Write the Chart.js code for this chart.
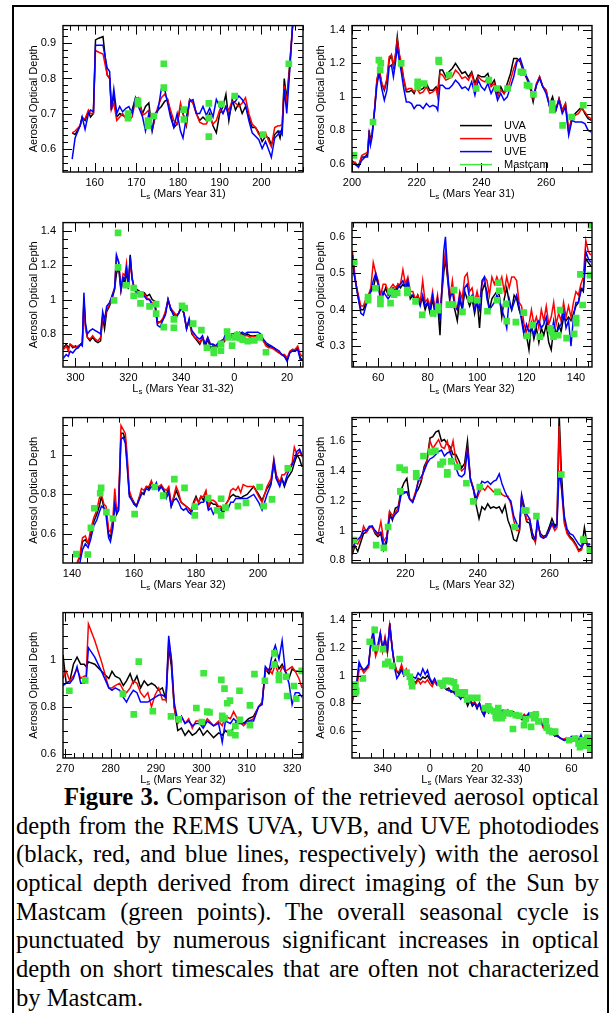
<!DOCTYPE html>
<html>
<head>
<meta charset="utf-8">
<title>Figure 3</title>
<script src="https://cdn.jsdelivr.net/npm/chart.js@4.4.0/dist/chart.umd.min.js"></script>
<style>
  body { margin: 0; background: #fff; width: 612px; height: 1013px; position: relative; overflow: hidden; }
  #frame { position: absolute; left: 12px; top: 5px; width: 593px; height: 1020px; border: 2px solid #000; }
  canvas { position: absolute; }
  #caption { position: absolute; left: 16px; top: 783px; width: 583px; font-family: "Liberation Serif", "Times New Roman", serif; font-size: 24.6px; line-height: 28.7px; color: #000; }
  #caption .ln { text-align: justify; text-align-last: justify; height: 28.7px; }
  #caption .ln.last { text-align-last: left; }
</style>
</head>
<body>
<div id="frame"></div>
<div id="caption">
  <div class="ln" style="text-indent:48px"><b>Figure 3.</b> Comparison of the retrieved aerosol optical</div>
  <div class="ln">depth from the REMS UVA, UVB, and UVE photodiodes</div>
  <div class="ln">(black, red, and blue lines, respectively) with the aerosol</div>
  <div class="ln">optical depth derived from direct imaging of the Sun by</div>
  <div class="ln">Mastcam (green points). The overall seasonal cycle is</div>
  <div class="ln">punctuated by numerous significant increases in optical</div>
  <div class="ln">depth on short timescales that are often not characterized</div>
  <div class="ln last">by Mastcam.</div>
</div>
<script>
// ---- panel 1 : MY31, Ls 152-210
var p1Ls = [154.6, 155.3, 156.5, 157, 157.7, 158.5, 159, 159.7, 160.2, 161,
  162, 163, 163.6, 164, 164.6, 165.3, 166, 166.7, 167.5, 168.2,
  169, 169.8, 170.5, 171.5, 172.2, 173, 173.8, 174.5, 175.2, 176,
  176.8, 177.5, 178.2, 179, 179.8, 180.6, 181.2, 182, 182.8, 183.6,
  184.4, 185.2, 186, 186.8, 187.6, 188.4, 189.2, 190, 190.8, 191.5,
  192.2, 193, 193.8, 194.6, 195.4, 196.2, 197, 197.8, 198.6, 199.4,
  200.2, 201, 201.8, 202.4, 203.2, 204, 204.5, 205, 205.5, 206.1,
  206.8, 207.5];
var p1Uva = [.645, .64, .665, .69, .68, .705, .69, .70, .91, .915,
  .92, .81, .80, .72, .75, .69, .70, .695, .69, .70,
  .71, .745, .74, .70, .72, .73, .65, .69, .71, .72,
  .735, .74, .70, .66, .67, .72, .70, .665, .74, .73,
  .70, .68, .69, .68, .70, .665, .645, .70, .72, .755,
  .68, .74, .71, .73, .70, .72, .69, .66, .66, .645,
  .62, .635, .63, .61, .64, .65, .63, .66, .80, .74,
  .84, .95];
var p1Uvb = [.645, .65, .665, .685, .685, .71, .70, .70, .88, .875,
  .87, .81, .80, .71, .73, .68, .69, .70, .685, .68,
  .69, .74, .745, .695, .70, .71, .655, .69, .72, .745,
  .755, .74, .71, .68, .67, .73, .70, .67, .74, .73,
  .70, .675, .67, .67, .69, .67, .68, .71, .70, .72,
  .71, .735, .73, .72, .73, .745, .70, .67, .66, .64,
  .64, .645, .62, .605, .66, .665, .665, .67, .78, .73,
  .83, .95];
var p1Uve = [.57, .63, .665, .69, .655, .70, .71, .705, .895, .895,
  .895, .83, .82, .71, .77, .70, .72, .705, .715, .72,
  .70, .745, .72, .69, .65, .70, .655, .70, .71, .77,
  .77, .73, .69, .66, .70, .65, .63, .69, .735, .74,
  .70, .70, .72, .695, .715, .69, .74, .72, .70, .72,
  .69, .73, .735, .75, .74, .725, .68, .645, .635, .625,
  .60, .62, .595, .575, .63, .64, .65, .64, .77, .70,
  .82, .95];
var p1CamLs = [168, 168, 170.4, 170.4, 172.8, 172.8, 173, 174.2, 176.6, 176.6,
  181.4, 181.4, 187.4, 187.4, 187.4, 190.4, 193.6, 200.4, 206.6];
var p1CamAod = [.70, .687, .736, .727, .68, .665, .675, .693, .842, .774,
  .711, .683, .729, .687, .634, .727, .75, .64, .842];
var p1XRange = [152.4, 210];
var p1YRange = [0.533, 0.951];
var p1XTicks = [160, 170, 180, 190, 200];
var p1YTicks = [0.6, 0.7, 0.8, 0.9];
var p1XTitle = ' (Mars Year 31)';

// ---- panel 2 : MY31, Ls 200-274
var p2Ls = [200, 201, 202, 203, 204, 204.8, 205.3, 205.7, 206.2, 207,
  207.7, 208.4, 209.2, 210, 210.8, 211.5, 212.2, 212.8, 213.4, 214,
  214.6, 215.3, 216, 216.8, 217.6, 218.4, 219.2, 220, 221, 222,
  223, 224, 225, 226, 226.5, 227.2, 228, 229, 230, 231,
  232, 233, 234, 235, 236, 237, 238, 239, 240, 241,
  242, 243, 244, 245, 246, 247, 248, 249, 250, 251,
  252, 253, 254, 255, 256, 257, 258, 259, 260, 261,
  262, 263, 264, 265, 266, 267, 268, 269, 270, 271,
  272, 273, 274];
var p2Uva = [.62, .60, .59, .64, .64, .66, .80, .74, .78, .93,
  1.10, 1.16, 1.08, 1.04, 1.10, 1.22, 1.25, 1.18, 1.24, 1.36,
  1.25, 1.18, 1.10, 1.03, 1.03, 1.04, 1.02, 1.06, 1.04, 1.05,
  1.08, 1.04, 1.04, 1.06, 1.03, 1.16, 1.16, 1.12, 1.15, 1.17,
  1.20, 1.17, 1.14, 1.15, 1.12, 1.15, 1.08, 1.13, 1.12, 1.12,
  1.14, 1.07, 1.10, 1.02, 1.06, 1.02, 1.08, 1.14, 1.23, 1.23,
  1.21, 1.15, 1.11, 1.06, .97, 1.07, 1.12, 1.06, 1.04, .95,
  1.00, .92, .99, .92, .96, .79, .88, .90, .92, .94,
  .90, .87, .86];
var p2Uvb = [.61, .61, .58, .65, .66, .67, .78, .73, .77, .93,
  1.10, 1.17, 1.08, 1.05, 1.11, 1.24, 1.25, 1.19, 1.25, 1.34,
  1.26, 1.20, 1.11, 1.04, 1.05, 1.05, 1.03, 1.05, 1.02, 1.03,
  1.06, 1.02, 1.03, 1.05, 1.00, 1.14, 1.13, 1.10, 1.11, 1.12,
  1.16, 1.14, 1.11, 1.12, 1.10, 1.14, 1.06, 1.12, 1.10, 1.09,
  1.11, 1.06, 1.08, 1.00, 1.04, 1.02, 1.04, 1.10, 1.17, 1.22,
  1.22, 1.16, 1.12, 1.07, .99, 1.08, 1.12, 1.06, 1.04, .95,
  .98, .92, .99, .92, .96, .80, .87, .89, .90, .93,
  .91, .88, .87];
var p2Uve = [.60, .595, .58, .62, .64, .64, .77, .71, .76, .92,
  1.07, 1.14, 1.05, .98, 1.04, 1.18, 1.19, 1.12, 1.20, 1.30,
  1.22, 1.14, 1.05, .97, .97, .96, .93, .95, .95, .93,
  .96, .94, .95, .94, .92, 1.07, 1.07, 1.05, 1.05, 1.07,
  1.10, 1.08, 1.05, 1.06, 1.04, 1.09, 1.01, 1.10, 1.06, 1.04,
  1.08, 1.02, 1.06, .98, 1.02, .98, 1.00, 1.06, 1.12, 1.21,
  1.23, 1.17, 1.12, 1.08, 1.00, 1.07, 1.11, 1.06, 1.02, .95,
  .98, .92, .98, .90, .94, .77, .86, .85, .85, .85,
  .84, .80, .79];
var p2CamLs = [200.6, 206.5, 208.3, 208.9, 208.7, 215.2, 220.3, 220.3, 222.3, 226.8,
  226.9, 230, 238.4, 242.3, 244.8, 248.1, 252.2, 252.9, 254.1, 254.8,
  256.1, 261.9, 261.9, 265.1, 267.9, 271.5];
var p2CamAod = [.65, .85, 1.22, 1.20, 1.16, 1.20, 1.09, 1.06, 1.08, 1.22,
  1.21, 1.13, 1.05, 1.10, 1.05, 1.05, 1.15, 1.145, 1.07, 1.065,
  1.015, .96, .92, .83, .88, .95];
var p2XRange = [200, 274.2];
var p2YRange = [0.551, 1.426];
var p2XTicks = [200, 220, 240, 260];
var p2YTicks = [0.6, 0.8, 1, 1.2, 1.4];
var p2XTitle = ' (Mars Year 31)';

// ---- panel 3 : MY31-32, Ls 295 - 26 (values past 360 keep counting)
var p3Ls = [295.5, 296.5, 297.3, 298, 299, 300, 301, 302, 302.6, 303.2,
  303.8, 304.5, 305.5, 306.5, 307.5, 308.5, 309.5, 310.3, 311, 311.8,
  312.8, 313.8, 314.8, 315.5, 316.3, 317.2, 318, 318.7, 319.3, 320,
  320.7, 321.4, 322.2,
  323, 324, 325, 326, 327, 328, 329, 330, 331, 332,
  333, 334, 335, 336, 337, 338, 339, 340, 341, 342,
  343, 344, 345, 346, 347, 348, 349, 350, 351, 352,
  353, 354, 355, 356, 357, 358, 359, 360, 361, 362,
  363, 364, 365, 366, 367, 368, 369, 370, 371, 372,
  373, 374, 375, 376, 377, 378, 379, 380, 381, 382,
  383, 384, 385, 385.8];
var p3Uva = [.72, .74, .72, .74, .72, .73, .72, .74, .75, 1.00,
  .85, .78, .76, .78, .76, .75, .76, .90, .83, .93,
  .96, 1.00, 1.06, 1.15, 1.19, 1.05, 1.12, 1.10, 1.17, 1.06,
  1.26, 1.12, 1.07,
  1.06, 1.05, 1.04, 1.04, 1.02, 1.03, 1.00, .99, .87, .87,
  .88, .92, 1.00, .94, .92, .91, .92, .96, .92, .83,
  .88, .80, .78, .76, .74, .78, .72, .77, .72, .73,
  .72, .73, .74, .75, .77, .78, .79, .80, .79, .81,
  .80, .79, .80, .79, .79, .79, .79, .78, .76, .74,
  .73, .72, .72, .70, .69, .68, .67, .65, .69, .71,
  .70, .72, .66, .65];
var p3Uvb = [.71, .73, .70, .74, .73, .72, .73, .74, .74, .98,
  .83, .78, .77, .79, .77, .76, .78, .90, .87, .94,
  .97, 1.02, 1.07, 1.25, 1.22, 1.06, 1.15, 1.14, 1.21, 1.09,
  1.22, 1.12, 1.07,
  1.05, 1.04, 1.02, 1.03, 1.01, 1.00, .98, .97, .86, .87,
  .89, .93, 1.00, .95, .93, .91, .92, .96, .92, .83,
  .88, .81, .78, .77, .75, .78, .74, .78, .74, .74,
  .73, .74, .76, .76, .78, .78, .78, .79, .79, .80,
  .79, .79, .79, .78, .79, .78, .78, .77, .76, .73,
  .72, .72, .71, .70, .69, .68, .68, .66, .70, .71,
  .71, .73, .68, .67];
var p3Uve = [.66, .68, .67, .70, .69, .71, .72, .74, .73, 1.04,
  .86, .80, .82, .83, .82, .81, .80, .93, .88, .96,
  .98, 1.02, 1.06, 1.26, 1.22, 1.06, 1.13, 1.12, 1.18, 1.09,
  1.25, 1.13, 1.06,
  1.04, 1.03, 1.02, 1.02, 1.00, 1.00, .97, .97, .85, .84,
  .88, .91, 1.00, .95, .91, .89, .92, .95, .92, .83,
  .89, .82, .80, .78, .77, .79, .74, .78, .74, .74,
  .73, .75, .76, .77, .81, .79, .80, .80, .81, .80,
  .81, .80, .81, .81, .81, .81, .81, .80, .77, .75,
  .74, .73, .72, .71, .70, .68, .67, .64, .69, .70,
  .70, .71, .65, .65];
var p3CamLs = [316.1, 316.1, 314.6, 319.1, 322, 322, 324.6, 324.6, 328, 330.5,
  330.5, 333.4, 337.2, 337.2, 340.3, 341.3, 344.5, 347.6, 349.7, 352.3,
  352.3, 355, 355, 357.3, 357.7, 359.2, 360.2, 361.1, 362.3, 363.2,
  365.1, 367.6, 369.6, 372];
var p3CamAod = [1.387, 1.187, .995, 1.083, 1.067, 1.022, 1.03, .978, .96, .973,
  .918, .84, .885, .836, .964, .951, .86, .822, .72, .708,
  .69, .743, .703, .814, .78, .732, .78, .794, .776, .767,
  .758, .763, .78, .694];
var p3XRange = [295.3, 386];
var p3YRange = [0.608, 1.447];
var p3XTicks = [300, 320, 340, 360, 380];
var p3YTicks = [0.8, 1, 1.2, 1.4];
var p3XTitle = ' (Mars Year 31-32)';

// ---- panel 4 : MY32, Ls 49-146
var p4Ls = [49.6, 50.2, 51, 52, 53, 54, 55, 56, 57, 58,
  59, 60, 61, 62, 63, 64, 65, 66, 67, 68,
  69, 70, 71, 72, 73, 74, 75, 76, 77, 78,
  79, 80, 81, 82, 83, 84, 85, 85.7, 86.5, 87.2,
  88, 89, 90, 91, 92, 93, 94, 95, 96, 97,
  98, 99, 100, 101, 102, 103, 104, 105, 106, 107,
  108, 109, 110, 111, 112, 113, 114, 115, 116, 117,
  118, 119, 120, 121, 122, 123, 124, 125, 126, 127,
  128, 129, 130, 131, 132, 133, 134, 135, 136, 137,
  138, 139, 140, 141, 142, 143, 144, 145, 146];
var p4Uva = [.55, .50, .47, .43, .40, .40, .42, .44, .45, .46,
  .49, .47, .43, .44, .46, .44, .45, .46, .45, .47,
  .46, .47, .46, .47, .43, .44, .42, .44, .42, .43,
  .40, .42, .39, .43, .39, .42, .33, .44, .50, .54,
  .49, .42, .42, .40, .37, .43, .40, .45, .43, .41,
  .43, .39, .43, .35, .45, .47, .45, .40, .43, .44,
  .45, .44, .38, .43, .46, .42, .40, .44, .43, .40,
  .38, .34, .33, .29, .36, .32, .35, .31, .35, .33,
  .36, .31, .29, .35, .33, .36, .34, .38, .37, .38,
  .37, .39, .41, .42, .46, .45, .54, .53, .52];
var p4Uvb = [.56, .52, .47, .44, .41, .41, .43, .44, .46, .53,
  .50, .48, .44, .47, .47, .45, .46, .47, .46, .47,
  .47, .51, .47, .49, .45, .45, .43, .44, .42, .48,
  .42, .43, .41, .45, .40, .44, .38, .45, .52, .56,
  .50, .43, .48, .42, .40, .45, .43, .49, .50, .45,
  .46, .42, .45, .42, .47, .49, .48, .44, .49, .47,
  .49, .47, .49, .45, .49, .46, .49, .49, .48, .42,
  .41, .36, .34, .36, .40, .36, .38, .35, .40, .37,
  .41, .36, .38, .42, .36, .39, .37, .42, .38, .41,
  .38, .42, .45, .44, .47, .49, .59, .56, .55];
var p4Uve = [.55, .50, .47, .43, .39, .385, .41, .43, .45, .48,
  .50, .47, .42, .45, .44, .43, .44, .45, .44, .46,
  .47, .48, .46, .48, .44, .44, .42, .43, .41, .44,
  .41, .42, .40, .44, .39, .43, .37, .45, .56, .60,
  .51, .43, .45, .41, .40, .44, .40, .46, .47, .43,
  .44, .40, .42, .40, .48, .49, .43, .40, .41, .42,
  .44, .43, .40, .38, .35, .43, .40, .42, .44, .41,
  .37, .33, .36, .34, .35, .33, .36, .37, .35, .36,
  .38, .34, .33, .37, .33, .35, .36, .40, .35, .37,
  .30, .38, .42, .42, .45, .46, .56, .54, .53];
var p4CamLs = [50.3, 55.9, 55.9, 58.9, 60.9, 60.9, 65, 65, 66.4, 67.7,
  71.8, 71.8, 75.1, 77.8, 82.3, 84.3, 84.3, 88.6, 90.3, 90.7,
  94.1, 97.3, 100.1, 104.2, 108.1, 108.6, 109, 111.8, 112, 115.7,
  118.9, 120.3, 122.4, 125.4, 129.7, 130.1, 130.9, 132.8, 133.6, 136.2,
  139.3, 140.1, 140.1, 141.8, 142.7, 145.7, 146.1];
var p4CamAod = [.531, .435, .426, .459, .43, .416, .45, .418, .441, .446,
  .454, .446, .423, .386, .39, .399, .409, .414, .414, .454,
  .394, .429, .426, .396, .426, .474, .452, .416, .369, .366,
  .392, .328, .358, .326, .349, .339, .326, .33, .399, .322,
  .334, .377, .363, .497, .413, .495, .632];
var p4XRange = [49.4, 146.5];
var p4YRange = [0.243, 0.639];
var p4XTicks = [60, 80, 100, 120, 140];
var p4YTicks = [0.3, 0.4, 0.5, 0.6];
var p4XTitle = ' (Mars Year 32)';

// ---- panel 5 : MY32, Ls 137-214
var p5Ls = [141.6, 142.5, 143.4, 144.3, 145.2, 146, 147, 148, 148.8, 149.5,
  150.3, 151, 151.8, 152.4, 153.2, 153.8, 154.4, 155, 155.8, 156.5,
  157.2, 157.8, 158.5, 159.3, 160, 160.8, 161.6, 162.4, 163.2, 164,
  164.8, 165.6, 166.4, 167.2, 168, 168.8, 169.6, 170.4, 171.2, 172,
  172.8, 173.6, 174.4, 175.2, 176, 176.8, 177.6, 178.4, 179.2, 180,
  180.8, 181.6, 182.4, 183.2, 184, 184.8, 185.6, 186.4, 187.2, 188,
  188.8, 189.6, 190.4, 191.2, 192, 192.8, 193.6, 194.4, 195.2, 196.5,
  198.6, 200.2, 201.3, 202.9, 204.2, 205.1, 205.9, 207, 207.7, 208.5,
  209.4, 210.2, 211, 211.7, 212.6, 213.4, 214.2];
var p5Uva = [.45, .48, .56, .57, .55, .60, .66, .70, .74, .79,
  .73, .72, .60, .58, .65, .76, .70, .72, 1.11, 1.11,
  1.08, .96, .80, .78, .76, .74, .78, .81, .80, .84,
  .83, .86, .84, .85, .83, .84, .82, .80, .83, .74,
  .78, .82, .79, .76, .75, .74, .73, .71, .76, .79,
  .76, .79, .77, .81, .73, .76, .75, .75, .73, .73,
  .71, .75, .77, .79, .80, .79, .79, .78, .79, .80,
  .84, .80, .77, .83, .86, .96, .88, .86, .88, .84,
  .88, .90, .92, .96, 1.00, .98, .94];
var p5Uvb = [.45, .49, .58, .59, .55, .62, .68, .72, .78, .80,
  .75, .74, .62, .61, .68, .83, .72, .74, 1.15, 1.13,
  1.11, 1.00, .82, .78, .75, .74, .78, .83, .82, .84,
  .84, .87, .83, .84, .84, .85, .83, .82, .84, .75,
  .79, .84, .81, .76, .75, .74, .73, .72, .75, .78,
  .76, .79, .79, .82, .74, .77, .77, .76, .74, .74,
  .72, .75, .77, .82, .83, .82, .84, .81, .85, .84,
  .84, .79, .76, .84, .88, .98, .90, .86, .90, .90,
  .92, .94, .96, 1.04, 1.00, 1.02, .99];
var p5Uve = [.43, .45, .52, .55, .53, .57, .64, .67, .71, .74,
  .73, .69, .58, .56, .63, .75, .71, .72, 1.08, 1.09,
  1.06, .94, .79, .77, .75, .74, .77, .80, .81, .83,
  .82, .84, .83, .86, .82, .84, .82, .78, .81, .74,
  .77, .78, .76, .73, .72, .73, .71, .70, .74, .74,
  .75, .76, .76, .78, .72, .73, .70, .72, .72, .72,
  .71, .73, .73, .76, .76, .78, .78, .78, .78, .78,
  .80, .76, .72, .80, .85, .97, .88, .84, .88, .85,
  .90, .93, .95, .98, 1.02, 1.03, 1.00];
var p5CamLs = [141.4, 145.1, 146.1, 147.2, 149.1, 149.4, 151.1, 153.2, 160.2, 166.7,
  169.4, 173, 176.3, 179.6, 179.6, 183.9, 186.8, 188.1, 188.1, 189.5,
  193.5, 196.1, 200.5, 201.8, 204.5, 209.6];
var p5CamAod = [.497, .495, .63, .73, .806, .833, .71, .678, .70, .838,
  .794, .878, .833, .738, .694, .781, .719, .778, .694, .733,
  .741, .757, .838, .741, .775, .932];
var p5XRange = [137.1, 214.5];
var p5YRange = [0.452, 1.19];
var p5XTicks = [140, 160, 180, 200];
var p5YTicks = [0.6, 0.8, 1];
var p5XTitle = ' (Mars Year 32)';

// ---- panel 6 : MY32, Ls 205-272
var p6Ls = [205.3, 206, 206.8, 207.6, 208.4, 209.2, 210, 210.8, 211.6, 212.4,
  213.2, 214, 214.8, 215.6, 216.4, 217.2, 218, 218.8, 219.6, 220.4,
  221.2, 222, 222.8, 223.6, 224.4, 225.2, 226, 226.8, 227.6, 228.4,
  229.2, 230, 230.8, 231.6, 232.4, 233.2, 234, 234.8, 235.6, 236.4,
  237.2, 238, 238.8, 239.6, 240.4, 241.2, 242, 242.8, 243.6, 244.4,
  245.2, 246, 246.8, 247.6, 248.4, 249.2, 250, 250.8, 251.6, 252.2,
  253, 253.6, 254.4, 255.2, 256, 256.6, 257.4, 258.2, 259, 259.8,
  260.6, 261.4, 262, 262.6, 263.2, 264, 264.8, 265.6, 266.4, 267.2,
  268, 268.8, 269.6, 270.4, 271.2];
var p6Uva = [.84, .90, .86, .92, .98, .99, 1.02, 1.03, .98, .96,
  .98, .87, .92, 1.12, 1.07, 1.15, 1.16, 1.27, 1.32, 1.35,
  1.21, 1.19, 1.25, 1.28, 1.33, 1.43, 1.47, 1.62, 1.63, 1.66,
  1.67, 1.60, 1.61, 1.58, 1.56, 1.51, 1.51, 1.47, 1.42, 1.45,
  1.60, 1.35, 1.28, 1.17, 1.08, 1.16, 1.14, 1.18, 1.15, 1.16,
  1.15, 1.16, 1.12, 1.17, 1.07, 1.02, .94, .93, 1.00, 1.22,
  1.12, 1.06, 1.05, .95, .93, 1.05, .98, .96, .97, 1.02,
  1.08, 1.03, 1.05, 1.78, 1.40, 1.08, .99, .96, .94, .91,
  .87, .88, 1.02, .90, .91];
var p6Uvb = [.86, .92, .91, .95, 1.03, .99, 1.02, 1.02, .99, .97,
  1.06, .93, .96, 1.13, 1.10, 1.12, 1.15, 1.25, 1.26, 1.26,
  1.21, 1.20, 1.26, 1.33, 1.34, 1.41, 1.47, 1.60, 1.55, 1.58,
  1.61, 1.56, 1.55, 1.60, 1.52, 1.60, 1.47, 1.43, 1.40, 1.42,
  1.55, 1.35, 1.29, 1.20, 1.25, 1.29, 1.27, 1.30, 1.28, 1.26,
  1.27, 1.27, 1.24, 1.23, 1.23, 1.18, 1.07, 1.00, 1.00, 1.23,
  1.15, 1.07, 1.08, .98, .92, 1.06, .97, .95, .96, 1.00,
  1.04, 1.00, 1.02, 1.70, 1.30, 1.05, .98, .95, .93, .90,
  .86, .87, .95, .90, .89];
var p6Uve = [.88, .92, .94, .96, 1.00, 1.00, 1.03, 1.03, 1.00, .98,
  .99, .89, .94, 1.09, 1.08, 1.11, 1.13, 1.24, 1.25, 1.26,
  1.21, 1.19, 1.24, 1.34, 1.36, 1.40, 1.45, 1.48, 1.49, 1.51,
  1.53, 1.54, 1.50, 1.52, 1.53, 1.47, 1.42, 1.37, 1.36, 1.38,
  1.54, 1.34, 1.28, 1.21, 1.28, 1.33, 1.32, 1.33, 1.31, 1.33,
  1.34, 1.38, 1.31, 1.26, 1.22, 1.20, 1.10, 1.05, 1.02, 1.24,
  1.15, 1.11, 1.08, .98, .94, 1.08, .96, .95, .96, 1.00,
  1.05, 1.02, 1.04, 1.40, 1.30, 1.10, 1.01, .98, .97, .94,
  .91, .89, .92, .91, .91];
var p6CamLs = [205.8, 211.9, 214, 215.2, 218.6, 218.4, 219.8, 223, 223, 225,
  227.1, 228.3, 229.7, 230.4, 231.6, 231.6, 232.7, 234.4, 236.9, 238.8,
  240.6, 245.5, 250.3, 252.9, 253.5, 256.3, 263.2, 269.3, 271.1];
var p6CamAod = [.936, .903, .884, 1.024, 1.263, 1.422, 1.407, 1.384, 1.359, 1.50,
  1.527, 1.535, 1.443, 1.46, 1.39, 1.376, 1.464, 1.426, 1.317, 1.196,
  1.292, 1.259, 1.024, 1.135, 1.135, 1.097, 1.376, .94, .873];
var p6XRange = [205.2, 271.7];
var p6YRange = [0.783, 1.757];
var p6XTicks = [220, 240, 260];
var p6YTicks = [0.8, 1, 1.2, 1.4, 1.6];
var p6XTitle = ' (Mars Year 32)';

// ---- panel 7 : MY32, Ls 269-322
var p7Ls = [269.5, 270.2, 271, 271.8, 272.6, 273.4, 274.2, 274.6, 275.1, 276.5,
  278, 279.6, 280.3, 281, 282, 282.8, 283.5, 284.3, 285, 285.8,
  286.6, 287.4, 288.2, 289, 289.8, 290.6, 291.4, 292.2, 292.8, 293.4,
  294, 294.8, 295.6, 296.4, 297.2, 298, 298.8, 299.6, 300.4, 301.3,
  302.7, 303.8, 304.6, 305.3, 306.4, 307.1, 308.2, 309.3, 310.4, 311.5,
  312.6, 313.4, 314.1, 314.9, 315.6, 316.3, 317.1, 317.8, 318.5, 319.3,
  320, 320.7, 321.5, 322.2];
var p7Uva = [1.02, .90, .91, .98, 1.01, .98, .98, .97, .99, .98,
  .95, .92, .95, .93, .92, .89, .91, .94, .90, .93,
  .88, .91, .89, .90, .89, .87, .88, .83, 1.05, .97,
  .80, .70, .71, .68, .70, .68, .69, .71, .68, .70,
  .67, .69, .68, .70, .68, .72, .75, .73, .75, .76,
  .80, .82, .96, .94, .97, 1.00, .96, .98, .95, .92,
  .96, .95, .95, .95];
var p7Uvb = [.92, .95, .91, .93, .96, .92, .93, .93, 1.15, 1.08,
  .99, .88, .88, .89, .90, .87, .86, .88, .91, .90,
  .86, .84, .86, .80, .85, .88, .83, .83, 1.08, 1.00,
  .80, .73, .76, .73, .75, .71, .74, .74, .72, .75,
  .72, .74, .72, .76, .75, .78, .74, .72, .74, .75,
  .80, .82, .95, .96, .94, .98, .93, .97, .95, .96,
  .97, .95, .92, .88];
var p7Uve = [.89, .90, .90, .92, .97, .90, .90, .91, 1.05, 1.01,
  .95, .88, .87, .88, .87, .84, .82, .85, .87, .86,
  .82, .82, .82, .83, .84, .85, .85, .84, 1.10, 1.00,
  .82, .74, .76, .73, .74, .72, .73, .73, .71, .74,
  .72, .73, .65, .74, .73, .75, .73, .73, .74, .74,
  .80, .81, .97, .95, 1.02, 1.06, 1.00, 1.08, .95, .90,
  .81, .86, .86, .84];
var p7CamLs = [270.9, 274.4, 282.7, 285.1, 286.2, 289.3, 293.3, 295, 298.9, 300.1,
  300.5, 301.3, 301.8, 304.4, 304.6, 304.6, 305.1, 305.1, 305.7, 306.3,
  306.4, 307.5, 307.5, 308.4, 308.5, 310.7, 310.7, 311.7, 314, 316.1,
  316.1, 317.1, 317.1, 318.7, 318.9, 320.4, 320.9, 322.1];
var p7CamAod = [.868, .912, .855, .768, .991, .782, .76, .747, .795, .736,
  .942, .78, .776, .914, .762, .749, .753, .877, .815, .826,
  .69, .68, .719, .868, .745, .806, .723, .938, .91, 1.026,
  .978, .934, .914, .927, .846, .888, .835, .952];
var p7XRange = [269.5, 322.4];
var p7YRange = [0.584, 1.198];
var p7XTicks = [270, 280, 290, 300, 310, 320];
var p7YTicks = [0.6, 0.8, 1];
var p7XTitle = ' (Mars Year 32)';

// ---- panel 8 : MY32-33, Ls 327 - 68 (values past 360 keep counting)
var p8Ls = [327, 328, 329, 330, 331, 332, 333, 334, 335, 336,
  337, 338, 339, 340, 341, 342, 343, 344, 345, 346,
  347, 348, 349, 350, 351, 352, 353, 354, 355, 356,
  357, 358, 359, 360, 361, 362, 363, 364, 365, 366,
  367, 368, 369, 370, 371, 372, 373, 374, 375, 376,
  377, 378, 379, 380, 381, 382, 383, 384, 385, 386,
  387, 388, 389, 390, 391, 392, 393, 394, 395, 396,
  397, 398, 399, 400, 401, 402, 403, 404, 405, 406,
  407, 408, 409, 410, 411, 412, 413, 414, 415, 416,
  417, 418, 419, 420, 421, 422, 423, 424, 425, 426,
  427, 428];
var p8Uva = [.80, .88, .93, 1.08, 1.06, 1.04, 1.05, 1.07, 1.23, 1.28,
  1.16, 1.20, 1.30, 1.18, 1.27, 1.17, 1.38, 1.20, 1.09, 1.03,
  1.01, 1.06, 1.00, 1.03, 1.00, .98, .96, .95, .98, .97,
  .99, .98, 1.00, .97, .94, .96, .93, .94, .92, .92,
  .90, .91, .88, .89, .86, .85, .84, .86, .83, .78,
  .82, .78, .80, .76, .80, .74, .71, .77, .73, .75,
  .74, .72, .77, .73, .74, .72, .74, .71, .74, .73,
  .71, .70, .68, .71, .70, .72, .70, .72, .71, .66,
  .67, .63, .61, .60, .59, .58, .56, .57, .55, .54,
  .53, .54, .53, .55, .54, .55, .52, .56, .53, .55,
  .53, .54];
var p8Uvb = [.82, .86, .90, 1.04, 1.05, 1.02, 1.04, 1.06, 1.24, 1.30,
  1.14, 1.19, 1.31, 1.18, 1.28, 1.17, 1.38, 1.20, 1.08, 1.03,
  1.03, 1.08, 1.02, 1.05, 1.00, .97, .95, .94, .97, .94,
  .96, .95, .97, .94, .92, .96, .93, .93, .91, .92,
  .90, .90, .89, .88, .87, .85, .84, .86, .83, .80,
  .83, .80, .81, .78, .80, .75, .72, .77, .74, .75,
  .75, .73, .76, .73, .75, .73, .75, .73, .74, .72,
  .71, .71, .70, .72, .70, .71, .70, .72, .70, .67,
  .68, .62, .61, .60, .59, .58, .57, .56, .55, .54,
  .54, .55, .54, .55, .54, .55, .54, .56, .54, .56,
  .53, .55];
var p8Uve = [.85, .90, .95, 1.10, 1.06, 1.04, 1.06, 1.08, 1.24, 1.33,
  1.18, 1.23, 1.31, 1.20, 1.26, 1.18, 1.36, 1.21, 1.06, .98,
  1.01, 1.04, 1.00, 1.02, 1.01, 1.00, .99, .98, 1.02, 1.00,
  1.05, 1.01, 1.04, .98, .95, .98, .94, .95, .92, .92,
  .90, .89, .89, .88, .86, .86, .83, .85, .83, .80,
  .82, .79, .80, .77, .80, .75, .71, .78, .74, .76,
  .74, .74, .76, .74, .75, .72, .75, .72, .74, .73,
  .72, .70, .69, .71, .71, .73, .70, .73, .70, .67,
  .66, .64, .61, .60, .59, .58, .57, .56, .55, .54,
  .53, .54, .54, .56, .55, .56, .53, .57, .52, .56,
  .53, .55];
var p8CamLs = [328.4, 328.4, 328.8, 331.6, 334.5, 336.6, 336.9, 340.1, 341.1, 342.3,
  344, 347.2, 350.1, 351.5, 352.2, 352.5, 364.5, 365.6, 366.6, 367.8,
  368.8, 370.2, 370.9, 372, 373, 374, 374.8, 375.8, 377.3, 380.1,
  383.3, 384.8, 385.3, 387.2, 387.9, 388.2, 389, 389.3, 390.4, 391,
  392.1, 393.8, 395.2, 396.4, 397.8, 399.9, 400.6, 402.9, 403.5, 404.2,
  404.9, 406, 409.1, 409.5, 410.5, 411.9, 413.1, 419, 421.6, 423,
  423.6, 424.7, 425.4, 426.8, 427.5, 427.9, 426.5];
var p8CamAod = [.935, .872, .89, .98, 1.246, 1.332, 1.2, 1.192, 1.083, 1.10,
  1.071, 1.121, 1.022, .992, .953, .924, .947, .929, .963, .963,
  .958, .951, .913, .872, .879, .868, .879, .827, .84, .84,
  .765, .777, .754, .743, .709, .691, .765, .72, .691, .709,
  .732, .727, .613, .714, .709, .641, .686, .629, .713, .691,
  .72, .668, .668, .623, .60, .591, .595, .532, .543, .509,
  .482, .532, .493, .55, .516, .464, .50];
var p8XRange = [327, 428.7];
var p8YRange = [0.403, 1.457];
var p8XTicks = [340, 360, 380, 400, 420];
var p8YTicks = [0.6, 0.8, 1, 1.2, 1.4];
var p8XTitle = ' (Mars Year 32-33)';

// legend (only drawn in panel 2)
var legendLabels = ['UVA', 'UVB', 'UVE', 'Mastcam'];

var BLACK = '#000000';
var RED = '#ff0000';
var BLUE = '#0000ff';
var GREEN = '#3ee63e';
var legendColors = [BLACK, RED, BLUE, GREEN];

Chart.defaults.font.family = '"Liberation Sans", Arial, Helvetica, sans-serif';
Chart.defaults.font.size = 11;
Chart.defaults.color = '#000';

function pairs(xs, ys) {
    return xs.map(function (x, i) { return { x: x, y: ys[i] }; });
}

function multiples(min, max, step) {
    var out = [];
    var first = Math.ceil(min / step - 1e-6);
    var last = Math.floor(max / step + 1e-6);
    for (var i = first; i <= last; i++) out.push(i * step);
    return out;
}

function tickMarks(ctx, scale, area, values, len, alongX) {
    values.forEach(function (v) {
        var p = Math.round(scale.getPixelForValue(v)) + 0.5;
        if (alongX) {
            ctx.moveTo(p, area.bottom); ctx.lineTo(p, area.bottom - len);
            ctx.moveTo(p, area.top); ctx.lineTo(p, area.top + len);
        } else {
            ctx.moveTo(area.left, p); ctx.lineTo(area.left + len, p);
            ctx.moveTo(area.right, p); ctx.lineTo(area.right - len, p);
        }
    });
}

// box frame, inward ticks on all sides, axis titles, in-plot legend
var frameAndTitles = {
    id: 'frameAndTitles',
    afterDatasetsDraw: function (chart, args, opts) {
        var ctx = chart.ctx;
        var area = chart.chartArea;
        var xs = chart.scales.x;
        var ys = chart.scales.y;
        ctx.save();
        ctx.strokeStyle = '#000';
        ctx.lineWidth = 1;
        ctx.beginPath();
        tickMarks(ctx, xs, area, multiples(xs.min, xs.max, opts.xMinor), 5, true);
        tickMarks(ctx, xs, area, opts.xMajor, 9, true);
        tickMarks(ctx, ys, area, multiples(ys.min, ys.max, opts.yMinor), 5, false);
        tickMarks(ctx, ys, area, opts.yMajor, 9, false);
        ctx.stroke();
        ctx.lineWidth = 1.4;
        ctx.strokeRect(area.left, area.top, area.right - area.left, area.bottom - area.top);

        // x title: L with subscript s
        ctx.fillStyle = '#000';
        ctx.textBaseline = 'alphabetic';
        ctx.textAlign = 'left';
        var big = '11px "Liberation Sans", Arial, sans-serif';
        var small = '8px "Liberation Sans", Arial, sans-serif';
        ctx.font = big;
        var wL = ctx.measureText('L').width;
        var wRest = ctx.measureText(opts.xTitle).width;
        ctx.font = small;
        var wS = ctx.measureText('s').width;
        var x0 = (area.left + area.right) / 2 - (wL + wS + wRest) / 2;
        var yb = area.bottom + 24.5;
        ctx.font = big;
        ctx.fillText('L', x0, yb);
        ctx.font = small;
        ctx.fillText('s', x0 + wL, yb + 2.5);
        ctx.font = big;
        ctx.fillText(opts.xTitle, x0 + wL + wS, yb);

        // y title
        ctx.save();
        ctx.translate(area.left - opts.yTitleGap, (area.top + area.bottom) / 2);
        ctx.rotate(-Math.PI / 2);
        ctx.textAlign = 'center';
        ctx.textBaseline = 'middle';
        ctx.fillText('Aerosol Optical Depth', 0, 0);
        ctx.restore();

        if (opts.legend) {
            ctx.textAlign = 'left';
            ctx.textBaseline = 'middle';
            ctx.lineWidth = 1.5;
            legendLabels.forEach(function (lab, i) {
                var y = area.top + opts.legend.top + i * 13;
                ctx.strokeStyle = legendColors[i];
                ctx.beginPath();
                ctx.moveTo(area.left + opts.legend.left, y);
                ctx.lineTo(area.left + opts.legend.left + 32, y);
                ctx.stroke();
                ctx.fillText(lab, area.left + opts.legend.left + 44, y);
            });
        }
        ctx.restore();
    }
};

var panelSetup = [
    { left: 19, top: 12, height: 190, ls: p1Ls, uva: p1Uva, uvb: p1Uvb, uve: p1Uve, camLs: p1CamLs, camAod: p1CamAod,
      xRange: p1XRange, yRange: p1YRange, xTicks: p1XTicks, yTicks: p1YTicks, xMinor: 2, yMinor: 0.02, xTitle: p1XTitle, gap: 29 },
    { left: 308, top: 12, height: 190, ls: p2Ls, uva: p2Uva, uvb: p2Uvb, uve: p2Uve, camLs: p2CamLs, camAod: p2CamAod,
      xRange: p2XRange, yRange: p2YRange, xTicks: p2XTicks, yTicks: p2YTicks, xMinor: 5, yMinor: 0.05, xTitle: p2XTitle, gap: 31,
      legend: { left: 108, top: 100 } },
    { left: 19, top: 209, height: 188, ls: p3Ls, uva: p3Uva, uvb: p3Uvb, uve: p3Uve, camLs: p3CamLs, camAod: p3CamAod,
      xRange: p3XRange, yRange: p3YRange, xTicks: p3XTicks, yTicks: p3YTicks, xMinor: 5, yMinor: 0.05, xTitle: p3XTitle, gap: 29 },
    { left: 308, top: 209, height: 188, ls: p4Ls, uva: p4Uva, uvb: p4Uvb, uve: p4Uve, camLs: p4CamLs, camAod: p4CamAod,
      xRange: p4XRange, yRange: p4YRange, xTicks: p4XTicks, yTicks: p4YTicks, xMinor: 5, yMinor: 0.02, xTitle: p4XTitle, gap: 31 },
    { left: 19, top: 404, height: 189, ls: p5Ls, uva: p5Uva, uvb: p5Uvb, uve: p5Uve, camLs: p5CamLs, camAod: p5CamAod,
      xRange: p5XRange, yRange: p5YRange, xTicks: p5XTicks, yTicks: p5YTicks, xMinor: 5, yMinor: 0.05, xTitle: p5XTitle, gap: 29 },
    { left: 308, top: 404, height: 189, ls: p6Ls, uva: p6Uva, uvb: p6Uvb, uve: p6Uve, camLs: p6CamLs, camAod: p6CamAod,
      xRange: p6XRange, yRange: p6YRange, xTicks: p6XTicks, yTicks: p6YTicks, xMinor: 5, yMinor: 0.05, xTitle: p6XTitle, gap: 31 },
    { left: 19, top: 599, height: 189, ls: p7Ls, uva: p7Uva, uvb: p7Uvb, uve: p7Uve, camLs: p7CamLs, camAod: p7CamAod,
      xRange: p7XRange, yRange: p7YRange, xTicks: p7XTicks, yTicks: p7YTicks, xMinor: 2, yMinor: 0.05, xTitle: p7XTitle, gap: 29 },
    { left: 308, top: 599, height: 189, ls: p8Ls, uva: p8Uva, uvb: p8Uvb, uve: p8Uve, camLs: p8CamLs, camAod: p8CamAod,
      xRange: p8XRange, yRange: p8YRange, xTicks: p8XTicks, yTicks: p8YTicks, xMinor: 5, yMinor: 0.05, xTitle: p8XTitle, gap: 31 }
];

function lineSet(label, xs, ys, color, order) {
    return {
        label: label, data: pairs(xs, ys), borderColor: color, backgroundColor: color,
        borderWidth: 1.5, pointRadius: 0, pointHoverRadius: 0, tension: 0, order: order, clip: 0
    };
}

panelSetup.forEach(function (p) {
    var cv = document.createElement('canvas');
    cv.width = 290;
    cv.height = p.height;
    cv.style.left = p.left + 'px';
    cv.style.top = p.top + 'px';
    document.body.appendChild(cv);

    new Chart(cv.getContext('2d'), {
        type: 'line',
        data: {
            datasets: [
                { label: 'Mastcam', data: pairs(p.camLs, p.camAod), showLine: false, pointStyle: 'rect',
                  pointRadius: 4.7, pointHoverRadius: 4.7, pointBackgroundColor: GREEN, pointBorderColor: GREEN,
                  pointBorderWidth: 0, backgroundColor: GREEN, borderColor: GREEN, order: 0, clip: 0 },
                lineSet('UVE', p.ls, p.uve, BLUE, 1),
                lineSet('UVB', p.ls, p.uvb, RED, 2),
                lineSet('UVA', p.ls, p.uva, BLACK, 3)
            ]
        },
        options: {
            responsive: false,
            animation: false,
            devicePixelRatio: 1,
            events: [],
            layout: { padding: { top: 4, right: 6, left: 0, bottom: 0 } },
            plugins: {
                legend: { display: false },
                tooltip: { enabled: false },
                frameAndTitles: {
                    xMinor: p.xMinor, yMinor: p.yMinor, xMajor: p.xTicks, yMajor: p.yTicks,
                    xTitle: p.xTitle, yTitleGap: p.gap, legend: p.legend || null
                }
            },
            scales: {
                x: {
                    type: 'linear', min: p.xRange[0], max: p.xRange[1],
                    grid: { display: false, drawTicks: false }, border: { display: false },
                    ticks: {
                        padding: 4, maxRotation: 0, autoSkip: false, color: '#000',
                        callback: function (v) { return String(((Math.round(v) % 360) + 360) % 360); }
                    },
                    afterBuildTicks: function (s) { s.ticks = p.xTicks.map(function (v) { return { value: v }; }); },
                    afterFit: function (s) { s.height = 30; }
                },
                y: {
                    type: 'linear', min: p.yRange[0], max: p.yRange[1],
                    grid: { display: false, drawTicks: false }, border: { display: false },
                    ticks: {
                        padding: 7, color: '#000',
                        callback: function (v) { return String(Math.round(v * 100) / 100); }
                    },
                    afterBuildTicks: function (s) { s.ticks = p.yTicks.map(function (v) { return { value: v }; }); },
                    afterFit: function (s) { s.width = 44; }
                }
            }
        },
        plugins: [frameAndTitles]
    });
});
</script>
</body>
</html>
